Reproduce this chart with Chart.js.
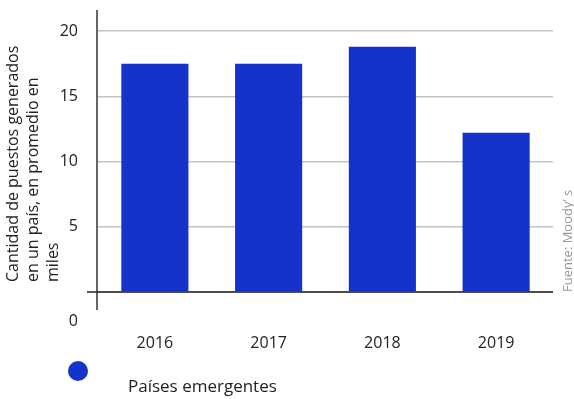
<!DOCTYPE html>
<html>
<head>
<meta charset="utf-8">
<script src="https://cdn.jsdelivr.net/npm/chart.js@4"></script>
<style>
    html, body { margin: 0; padding: 0; background: #fff; }
    #chart { display: block; }
</style>
</head>
<body>
<canvas id="chart" width="574" height="399"></canvas>
<script>
const years = ['2016', '2017', '2018', '2019'];
const jobs = [17.5, 17.5, 18.8, 12.2];
const yTicks = [0, 5, 10, 15, 20];
const yTitle = ['Cantidad de puestos generados', 'en un país, en promedio en', 'miles'];
const seriesName = 'Países emergentes';
const source = 'Fuente: Moody\u2019 s';

const FONT = '"Open Sans", sans-serif';
const BLUE = '#1533CA';

// axis lines, the odd "0", titles and legend that Chart.js can't place by itself
const extras = {
    id: 'extras',
    afterDatasetsDraw(chart) {
        const ctx = chart.ctx;
        const area = chart.chartArea;
        const y = chart.scales.y;
        const zero = y.getPixelForValue(0);
        ctx.save();
        // vertical axis
        ctx.strokeStyle = '#666';
        ctx.lineWidth = 2;
        ctx.beginPath();
        ctx.moveTo(area.left - 1, 10);
        ctx.lineTo(area.left - 1, zero + 18);
        ctx.stroke();
        // zero line
        ctx.strokeStyle = '#222';
        ctx.lineWidth = 1.5;
        ctx.beginPath();
        ctx.moveTo(area.left - 11, zero);
        ctx.lineTo(area.right, zero);
        ctx.stroke();
        // the 0 label sits below the baseline
        ctx.fillStyle = '#222';
        ctx.font = '16px ' + FONT;
        ctx.textAlign = 'right';
        ctx.textBaseline = 'middle';
        ctx.fillText(String(yTicks[0]), 78, zero + 29);
        ctx.restore();
    },
    afterDraw(chart) {
        const ctx = chart.ctx;
        const zero = chart.scales.y.getPixelForValue(0);
        ctx.save();
        // y title
        ctx.fillStyle = '#222';
        ctx.font = '16px ' + FONT;
        ctx.textAlign = 'left';
        ctx.textBaseline = 'middle';
        yTitle.forEach((line, i) => {
            ctx.save();
            ctx.translate(13 + i * 20, zero - 10);
            ctx.rotate(-Math.PI / 2);
            ctx.fillText(line, 0, 0);
            ctx.restore();
        });
        // source
        ctx.save();
        ctx.fillStyle = '#999';
        ctx.font = '13px ' + FONT;
        ctx.translate(568, zero);
        ctx.rotate(-Math.PI / 2);
        ctx.fillText(source, 0, 0);
        ctx.restore();
        // legend
        ctx.fillStyle = BLUE;
        ctx.beginPath();
        ctx.arc(78, 371, 10, 0, Math.PI * 2);
        ctx.fill();
        ctx.fillStyle = '#222';
        ctx.font = '17px ' + FONT;
        ctx.fillText(seriesName, 128, 387);
        ctx.restore();
    }
};

const data = {
    labels: years,
    datasets: [{
        label: seriesName,
        data: jobs,
        backgroundColor: BLUE,
        categoryPercentage: 1,
        barPercentage: 0.59,
    }]
};

const config = {
    type: 'bar',
    data: data,
    options: {
        responsive: false,
        animation: false,
        layout: {
            padding: { top: 31, right: 21, bottom: 42, left: 0 }
        },
        plugins: {
            legend: { display: false },
            tooltip: { enabled: false }
        },
        scales: {
            x: {
                grid: { display: false, drawTicks: false },
                border: { display: false },
                ticks: {
                    color: '#222',
                    font: { family: FONT, size: 16 },
                    padding: 42,
                    maxRotation: 0
                },
                afterFit(scale) { scale.height = 65; }
            },
            y: {
                min: yTicks[0],
                max: yTicks[yTicks.length - 1],
                grid: { color: '#c4c4c4', lineWidth: 1.5, drawTicks: false },
                border: { display: false },
                ticks: {
                    stepSize: 5,
                    color: '#222',
                    font: { family: FONT, size: 16 },
                    padding: 20,
                    callback: v => (v === 0 ? '' : v)
                },
                afterFit(scale) { scale.width = 98; }
            }
        }
    },
    plugins: [extras]
};

new Chart(document.getElementById('chart').getContext('2d'), config);
</script>
</body>
</html>
